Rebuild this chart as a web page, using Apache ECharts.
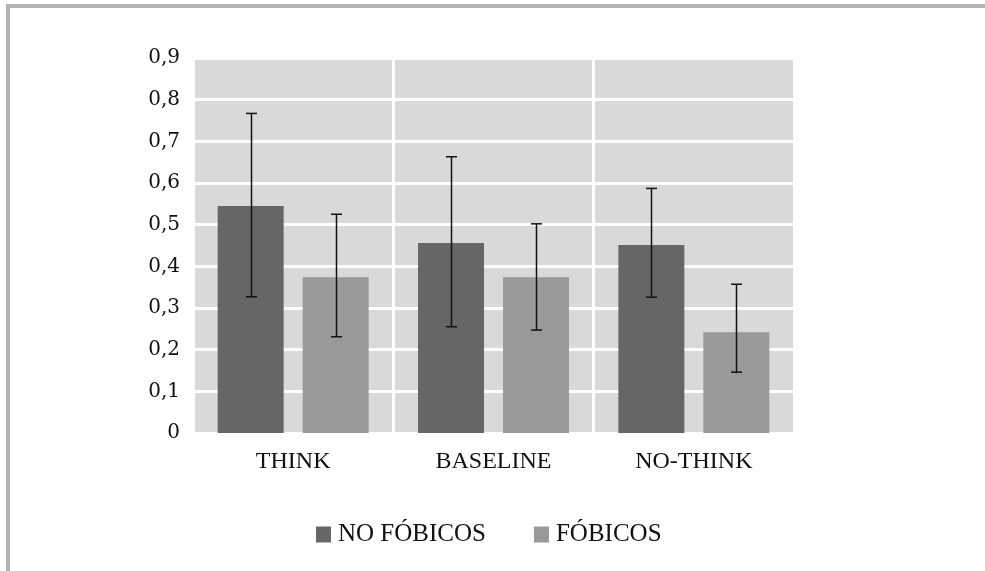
<!DOCTYPE html>
<html>
<head>
<meta charset="utf-8">
<script src="https://cdn.jsdelivr.net/npm/echarts@6/dist/echarts.min.js"></script>
<style>
html,body{margin:0;padding:0;background:#fff;}
#chart{width:985px;height:571px;}
</style>
</head>
<body>
<div id="chart"></div>
<script>
var categories = ['THINK', 'BASELINE', 'NO-THINK'];
var seriesNames = ['NO FÓBICOS', 'FÓBICOS'];
var noFobicos = [0.545, 0.456, 0.451];
var fobicos = [0.374, 0.374, 0.242];
var noFobicosLow = [0.327, 0.255, 0.326];
var noFobicosHigh = [0.767, 0.663, 0.587];
var fobicosLow = [0.231, 0.247, 0.146];
var fobicosHigh = [0.525, 0.502, 0.357];
var yTicks = [0, 0.1, 0.2, 0.3, 0.4, 0.5, 0.6, 0.7, 0.8, 0.9];

var chart = echarts.init(document.getElementById('chart'));
var BAR_W = 66, BAR_GAP = 19;

function errSeries(low, high, offset) {
  var data = categories.map(function (c, i) { return [i, low[i], high[i]]; });
  return {
    type: 'custom',
    z: 10,
    silent: true,
    data: data,
    renderItem: function (params, api) {
      var i = api.value(0);
      var pLow = api.coord([i, api.value(1)]);
      var pHigh = api.coord([i, api.value(2)]);
      var x = Math.round(pLow[0] + offset) + 0.5;
      var cap = 5.5;
      var style = { stroke: '#111111', lineWidth: 1.5 };
      return {
        type: 'group',
        children: [
          { type: 'line', shape: { x1: x, y1: pHigh[1], x2: x, y2: pLow[1] }, style: style },
          { type: 'line', shape: { x1: x - cap, y1: pHigh[1], x2: x + cap, y2: pHigh[1] }, style: style },
          { type: 'line', shape: { x1: x - cap, y1: pLow[1], x2: x + cap, y2: pLow[1] }, style: style }
        ]
      };
    }
  };
}

var off = (BAR_W + BAR_GAP) / 2;

chart.setOption({
  animation: false,
  backgroundColor: '#ffffff',
  textStyle: { fontFamily: 'Liberation Serif' },
  graphic: [
    { type: 'rect', shape: { x: 6, y: 4, width: 979, height: 4 }, style: { fill: '#b3b3b3' } },
    { type: 'rect', shape: { x: 6, y: 4, width: 4, height: 567 }, style: { fill: '#b3b3b3' } }
  ],
  grid: {
    left: 193, right: 191, top: 58, bottom: 138,
    show: true, backgroundColor: '#d9d9d9', borderWidth: 0
  },
  legend: {
    data: seriesNames,
    left: 311, top: 517,
    icon: 'rect', itemWidth: 15, itemHeight: 16, itemGap: 48,
    textStyle: { fontFamily: 'Liberation Serif', fontSize: 25, color: '#111', padding: [0, 0, 0, 2] }
  },
  xAxis: {
    type: 'category',
    data: categories,
    axisLine: { show: true, lineStyle: { color: '#ffffff', width: 2 } },
    axisTick: { show: false },
    splitLine: { show: true, lineStyle: { color: '#ffffff', width: 3 } },
    axisLabel: { fontFamily: 'Liberation Serif', fontSize: 24, color: '#111', margin: 17 }
  },
  yAxis: {
    type: 'value',
    min: 0, max: 0.9, interval: 0.1,
    axisLine: { show: false },
    axisTick: { show: false },
    splitLine: { show: true, lineStyle: { color: '#ffffff', width: 3 } },
    axisLabel: {
      fontFamily: 'DejaVu Serif', fontSize: 20, color: '#111', margin: 13,
      formatter: function (v) {
        var t = yTicks.reduce(function (a, b) { return Math.abs(b - v) < Math.abs(a - v) ? b : a; });
        return t === 0 ? '0' : t.toFixed(1).replace('.', ',');
      }
    }
  },
  series: [
    { name: seriesNames[0], type: 'bar', data: noFobicos, barWidth: BAR_W, barGap: (BAR_GAP / BAR_W * 100) + '%', itemStyle: { color: '#666666' } },
    { name: seriesNames[1], type: 'bar', data: fobicos, barWidth: BAR_W, itemStyle: { color: '#999999' } },
    errSeries(noFobicosLow, noFobicosHigh, -off),
    errSeries(fobicosLow, fobicosHigh, off)
  ]
});
</script>
</body>
</html>
